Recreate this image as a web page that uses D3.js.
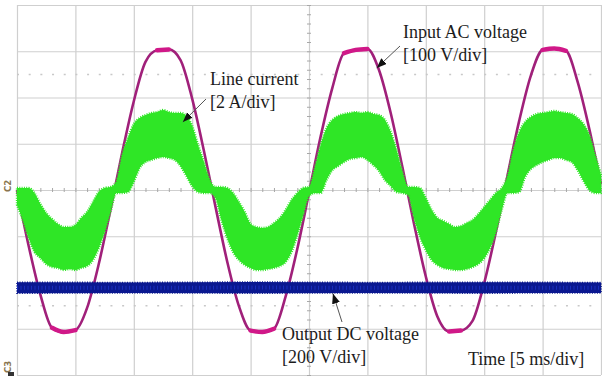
<!DOCTYPE html>
<html><head><meta charset="utf-8">
<script src="https://cdn.jsdelivr.net/npm/d3@7"></script>
<style>html,body{margin:0;padding:0;background:#fff;} svg{display:block;}</style>
</head><body>
<script>
// ---------- data ----------
// time in ms (5 ms/div, 10 div)
const timeDivs = [0,5,10,15,20,25,30,35,40,45,50];
const voltLevels = [-400,-300,-200,-100,0,100,200,300,400]; // 100 V/div grid

// Input AC voltage [V], sampled every 1 ms
const voltTimes = [0,1,2,3,4,5,6,7,8,9,10,11,12,13,14,15,16,17,18,19,20,21,22,23,24,25,26,27,28,29,30,31,32,33,34,35,36,37,38,39,40,41,42,43,44,45,46,47,48,49,50];
const inputVoltage = [0,-121,-226,-298,-307,-303,-255,-160,-43,80,192,277,302,304,281,197,85,-37,-155,-251,-304,-307,-300,-230,-127,-6,116,221,296,303,305,259,166,49,-74,-187,-274,-306,-304,-283,-201,-91,32,150,248,303,306,301,234,132,12];

// Line current [A] envelope of the switching-ripple band, sampled every 0.5 ms
const currentTimes = [0,0.5,1,1.5,2,2.5,3,3.5,4,4.5,5,5.5,6,6.5,7,7.5,8,8.5,9,9.5,10,10.5,11,11.5,12,12.5,13,13.5,14,14.5,15,15.5,16,16.5,17,17.5,18,18.5,19,19.5,20,20.5,21,21.5,22,22.5,23,23.5,24,24.5,25,25.5,26,26.5,27,27.5,28,28.5,29,29.5,30,30.5,31,31.5,32,32.5,33,33.5,34,34.5,35,35.5,36,36.5,37,37.5,38,38.5,39,39.5,40,40.5,41,41.5,42,42.5,43,43.5,44,44.5,45,45.5,46,46.5,47,47.5,48,48.5,49,49.5,50];
const currentUpper = [0.09,0.09,0.09,-0.13,-0.61,-0.99,-1.25,-1.47,-1.60,-1.60,-1.51,-1.21,-0.95,-0.52,-0.09,0.09,0.13,0.35,1.51,2.25,2.85,3.11,3.24,3.33,3.37,3.46,3.37,3.33,3.33,3.20,2.77,1.95,1.21,0.43,0.13,0.13,0.09,-0.13,-0.52,-0.95,-1.47,-1.60,-1.64,-1.60,-1.43,-1.21,-0.86,-0.43,-0.13,0.09,0.13,0.95,1.95,2.68,3.03,3.20,3.29,3.33,3.37,3.33,3.37,3.29,3.24,3.03,2.51,1.73,0.78,0.13,0.13,0.09,-0.35,-0.86,-1.21,-1.34,-1.47,-1.60,-1.56,-1.43,-1.30,-1.04,-0.74,-0.43,-0.13,0.09,0.61,1.73,2.51,2.94,3.16,3.29,3.33,3.37,3.42,3.37,3.33,3.29,3.11,2.85,2.38,1.51,0.65];
const currentLower = [-0.65,-1.30,-2.08,-2.68,-2.94,-3.20,-3.33,-3.37,-3.46,-3.42,-3.46,-3.37,-3.29,-3.03,-2.51,-1.82,-0.95,-0.13,-0.13,-0.09,0.35,0.95,1.21,1.30,1.38,1.43,1.38,1.30,1.04,0.61,0.17,-0.09,-0.13,-0.13,-0.35,-1.30,-2.08,-2.68,-3.03,-3.24,-3.37,-3.46,-3.46,-3.42,-3.37,-3.29,-3.11,-2.68,-1.95,-1.08,-0.26,-0.13,-0.13,0.43,0.86,1.04,1.21,1.34,1.38,1.43,1.30,1.08,0.82,0.43,0.17,-0.09,-0.13,-0.22,-1.21,-2.03,-2.59,-3.03,-3.24,-3.37,-3.42,-3.46,-3.46,-3.42,-3.33,-3.20,-2.94,-2.51,-1.82,-0.86,-0.13,-0.13,-0.09,0.56,0.91,1.08,1.21,1.30,1.38,1.38,1.30,1.21,0.86,0.39,0.00,-0.13,-0.13];

// Output DC voltage [V] band (200 V/div, ground marker at bottom edge)
const dcTimes = [0,10,20,30,40,50];
const dcUpper = [401,400,402,400,401,400];
const dcLower = [354,355,354,355,354,355];

// annotation texts
const labelInput = ["Input AC voltage","[100 V/div]"];
const labelCurrent = ["Line current","[2 A/div]"];
const labelDC = ["Output DC voltage","[200 V/div]"];
const labelTime = "Time [5 ms/div]";

// ---------- drawing ----------
const W = 602, H = 376;
const L = 17, R = 601, T = 5, B = 375;
const svg = d3.select("body").append("svg").attr("width", W).attr("height", H);
svg.append("rect").attr("width", W).attr("height", H).attr("fill", "#fff");

const x = d3.scaleLinear().domain([0, 50]).range([L, R]);
const yV = d3.scaleLinear().domain([-400, 400]).range([B, T]);
const yI = d3.scaleLinear().domain([-8, 8]).range([B, T]);
const yDC = d3.scaleLinear().domain([0, 1600]).range([B, T]);

// grid via axes
const gx = svg.append("g").attr("transform", `translate(0,${B})`)
  .call(d3.axisBottom(x).tickValues(timeDivs).tickSize(-(B - T)).tickFormat(""));
gx.select(".domain").remove();
gx.selectAll("line").attr("stroke", "#cfcfcf").attr("stroke-width", 1.2);
const gy = svg.append("g").attr("transform", `translate(${L},0)`)
  .call(d3.axisLeft(yV).tickValues(voltLevels).tickSize(-(R - L)).tickFormat(""));
gy.select(".domain").remove();
gy.selectAll("line").attr("stroke", "#cfcfcf").attr("stroke-width", 1.2);

// minor ticks on centre lines
const minorT = d3.range(0, 50.001, 1);
const mx = svg.append("g").attr("transform", `translate(0,${yV(0) - 2})`)
  .call(d3.axisBottom(x).tickValues(minorT).tickSize(4).tickFormat(""));
mx.select(".domain").remove();
mx.selectAll("line").attr("stroke", "#a8a8a8");
const minorV = d3.range(-400, 400.1, 20);
const my = svg.append("g").attr("transform", `translate(${x(25) - 2},0)`)
  .call(d3.axisRight(yV).tickValues(minorV).tickSize(4).tickFormat(""));
my.select(".domain").remove();
my.selectAll("line").attr("stroke", "#a8a8a8");

// dotted cursor lines
[250, -250].forEach(v => {
  svg.append("line").attr("x1", L).attr("x2", R).attr("y1", yV(v)).attr("y2", yV(v))
    .attr("stroke", "#c8c8c8").attr("stroke-width", 1.5)
    .attr("stroke-dasharray", `2 ${(x(1) - x(0)) - 2}`);
});

// channel markers
svg.append("text").attr("transform", `translate(11,${yV(0) - 4}) rotate(-90)`)
  .attr("text-anchor", "middle").attr("font-family", "DejaVu Sans").attr("font-size", 8.5)
  .attr("font-weight", "bold").attr("fill", "#8a7650").text("C2");
svg.append("text").attr("transform", `translate(11,${B - 8}) rotate(-90)`)
  .attr("text-anchor", "middle").attr("font-family", "DejaVu Sans").attr("font-size", 8.5)
  .attr("font-weight", "bold").attr("fill", "#8a7650").text("C3");
svg.append("rect").attr("x", 8).attr("y", B - 3).attr("width", 6).attr("height", 4).attr("fill", "#333");

// input AC voltage
const vData = voltTimes.map((t, i) => ({ t, v: inputVoltage[i] }));
const vLine = d3.line().x(d => x(d.t)).y(d => yV(d.v)).curve(d3.curveMonotoneX);
svg.append("path").datum(vData).attr("d", vLine)
  .attr("fill", "none").attr("stroke", "#a0207a").attr("stroke-width", 2.6);
// thicker noisy band at the flat peaks
svg.append("path").datum(vData)
  .attr("d", d3.line().defined(d => Math.abs(d.v) >= 296).x(d => x(d.t)).y(d => yV(d.v)).curve(d3.curveMonotoneX))
  .attr("fill", "none").attr("stroke", "#d01888").attr("stroke-width", 4.5)
  .attr("stroke-linecap", "round");

// line current band
const iData = currentTimes.map((t, i) => ({ t, hi: currentUpper[i], lo: currentLower[i] }));
const iArea = d3.area().x(d => x(d.t)).y0(d => yI(d.lo)).y1(d => yI(d.hi)).curve(d3.curveMonotoneX);
svg.append("path").datum(iData).attr("d", iArea)
  .attr("fill", "#2fe626").attr("stroke", "#2fe626").attr("stroke-width", 2.4)
  .attr("stroke-dasharray", "1 1.3").attr("stroke-linejoin", "round");

// output DC voltage band
const dData = dcTimes.map((t, i) => ({ t, hi: dcUpper[i], lo: dcLower[i] }));
const dArea = d3.area().x(d => x(d.t)).y0(d => yDC(d.lo)).y1(d => yDC(d.hi));
svg.append("path").datum(dData).attr("d", dArea)
  .attr("fill", "#0a1890").attr("stroke", "#0a1890").attr("stroke-width", 1.6)
  .attr("stroke-dasharray", "1 1.5");
svg.append("path").datum(dData)
  .attr("d", d3.line().x(d => x(d.t)).y(d => (yDC(d.hi) + yDC(d.lo)) / 2))
  .attr("fill", "none").attr("stroke", "#2440e0").attr("stroke-width", 4)
  .attr("stroke-dasharray", "1 2.5").attr("opacity", 0.55);

// arrows
const defs = svg.append("defs");
defs.append("marker").attr("id", "ah").attr("markerUnits", "userSpaceOnUse")
  .attr("markerWidth", 12).attr("markerHeight", 10).attr("refX", 10).attr("refY", 4)
  .attr("orient", "auto")
  .append("path").attr("d", "M0,0 L10,4 L0,8 Z").attr("fill", "#111");
function arrow(x1, y1, x2, y2) {
  svg.append("line").attr("x1", x1).attr("y1", y1).attr("x2", x2).attr("y2", y2)
    .attr("stroke", "#555").attr("stroke-width", 1).attr("marker-end", "url(#ah)");
}
arrow(400, 46, x(30.8), yV(264));
arrow(206, 99, x(14.2), yI(2.94));
arrow(342, 322, x(27.05), yDC(352));

// labels
const font = "'Liberation Serif','Times New Roman',serif";
function label(lines, px, py) {
  const t = svg.append("text").attr("font-family", font).attr("font-size", 18).attr("fill", "#1c1c1c");
  lines.forEach((s, i) => t.append("tspan").attr("x", px).attr("y", py + i * 23).text(s));
}
label(labelInput, 403, 38);
label(labelCurrent, 210, 85);
label(labelDC, 282, 340);
label([labelTime], 468, 365);
</script>
</body></html>
